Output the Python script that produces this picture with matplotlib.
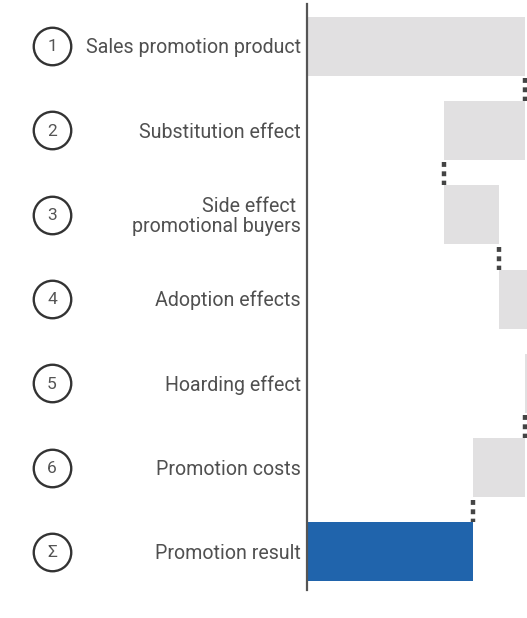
import matplotlib.pyplot as plt
import matplotlib.transforms as mtransforms

plt.rcParams['font.family'] = ['Roboto', 'DejaVu Sans']

labels = ["Sales promotion product", "Substitution effect", "Side effect \npromotional buyers",
          "Adoption effects", "Hoarding effect", "Promotion costs", "Promotion result"]
badges = ["1", "2", "3", "4", "5", "6", "Σ"]
changes = [100, -37, 25, 20, -8, -24]

gray = "#e1e0e1"
blue = "#2064ac"
dark = "#444444"

# running totals for the waterfall
starts, ends = [], []
total = 0
for c in changes:
    starts.append(total)
    total += c
    ends.append(total)
result = total

fig = plt.figure(figsize=(5.27, 6.18), dpi=100)
# 7 rows of ~84 px, first row centred at y=46
ax = fig.add_axes([307 / 527, 24 / 618, 1 - 307 / 527, 590 / 618])

h = 0.70
for i, (s, e) in enumerate(zip(starts, ends)):
    ax.barh(i, e - s, left=s, height=h, color=gray, linewidth=0)
ax.barh(len(changes), result, left=0, height=h, color=blue, linewidth=0)

# dotted connectors between consecutive bars
for i, e in enumerate(ends):
    ax.plot([e, e], [i + h / 2 + 0.03, i + 1 - h / 2], color=dark, lw=3.2,
            linestyle=(0, (1.1, 1.0)), solid_capstyle='butt', dash_capstyle='butt')

ax.set_xlim(0, 100.9)
ax.set_ylim(len(labels) - 0.5, -0.5)
ax.set_xticks([])
ax.set_yticks([])
for side in ["top", "right", "bottom"]:
    ax.spines[side].set_visible(False)
ax.spines["left"].set_color("#555555")
ax.spines["left"].set_linewidth(1.6)
ax.spines["left"].set_bounds(-0.5, len(labels) - 0.55)

tr = mtransforms.blended_transform_factory(fig.transFigure, ax.transData)
for i, (lab, b) in enumerate(zip(labels, badges)):
    ax.text(301 / 527, i + 0.02, lab, transform=tr, ha="right", va="center",
            fontsize=14.1, color="#505050", linespacing=1.05)
    ax.plot([52 / 527], [i], transform=tr, marker="o", markersize=27,
            mfc="white", mec="#333333", mew=1.7, clip_on=False)
    ax.text(52 / 527, i + 0.01, b, transform=tr, ha="center", va="center",
            fontsize=12.5, color="#555555")

fig.savefig("out.png", dpi=100)
